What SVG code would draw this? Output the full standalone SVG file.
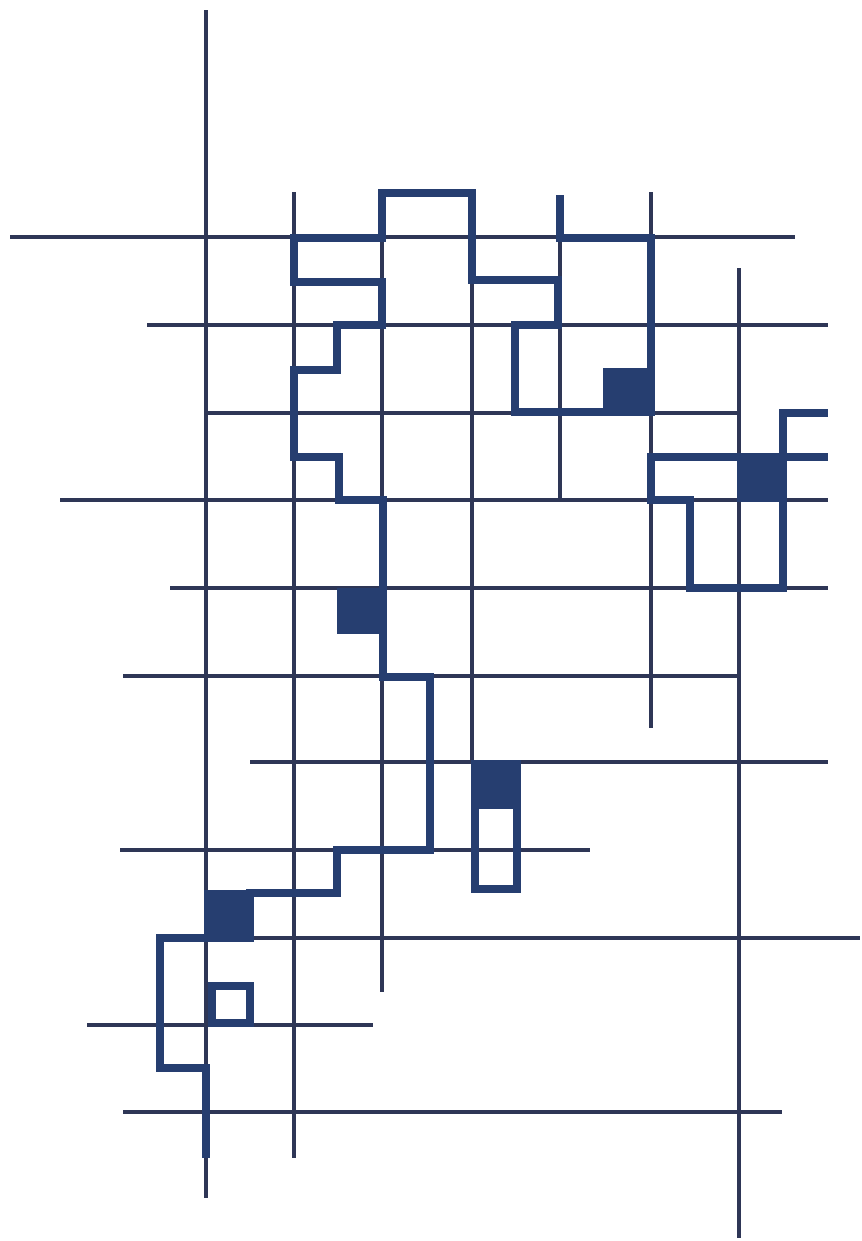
<svg xmlns="http://www.w3.org/2000/svg" width="862" height="1241" viewBox="0 0 862 1241">
<style>
.thin{stroke:#2e3656;stroke-width:4;fill:none;stroke-linecap:butt}
.thick{stroke:#263e70;stroke-width:8;fill:none;stroke-linejoin:miter;stroke-linecap:square}
.blk{fill:#263e70}
</style>
<rect width="862" height="1241" fill="#ffffff"/>
<g id="grid" class="thin">
<line x1="10" y1="237" x2="795" y2="237"/>
<line x1="147" y1="325" x2="828" y2="325"/>
<line x1="206" y1="413" x2="739" y2="413"/>
<line x1="60" y1="500" x2="828" y2="500"/>
<line x1="170" y1="588" x2="828" y2="588"/>
<line x1="123" y1="676" x2="739" y2="676"/>
<line x1="250" y1="762" x2="828" y2="762"/>
<line x1="120" y1="850" x2="590" y2="850"/>
<line x1="206" y1="938" x2="860" y2="938"/>
<line x1="87" y1="1025" x2="373" y2="1025"/>
<line x1="123" y1="1112" x2="782" y2="1112"/>
<line x1="206" y1="10" x2="206" y2="1198"/>
<line x1="294" y1="192" x2="294" y2="1158"/>
<line x1="382" y1="193" x2="382" y2="992"/>
<line x1="472" y1="193" x2="472" y2="762"/>
<line x1="560" y1="195" x2="560" y2="500"/>
<line x1="651" y1="192" x2="651" y2="728"/>
<line x1="739" y1="268" x2="739" y2="1238"/>
</g>
<g id="connectors">
<path class="thick" d="M560,199 V238 H651 V412 H515 V325 H558 V280 H472 V193 H382 V238 H294 V282 H382 V325 H337 V370 H294 V457 H339 V500 H383 V677 H430 V850 H337 V893 H250"/>
<path class="thick" d="M206,938 H160 V1068 H206 V1154"/>
<path class="thick" d="M824,413 H783 V588 H690 V500 H651 V457 H824"/>
<rect class="thick" x="212" y="986" width="38" height="37"/>
<rect class="thick" x="475" y="805" width="42" height="84"/>
</g>
<g id="squares">
<rect id="sq1" class="blk" x="603" y="368" width="50" height="46"/>
<rect id="sq2" class="blk" x="737" y="454" width="48" height="48"/>
<rect id="sq3" class="blk" x="337" y="588" width="50" height="46"/>
<rect id="sq4" class="blk" x="471" y="760" width="50" height="46"/>
<rect id="sq5" class="blk" x="204" y="890" width="50" height="52"/>
</g>
</svg>
